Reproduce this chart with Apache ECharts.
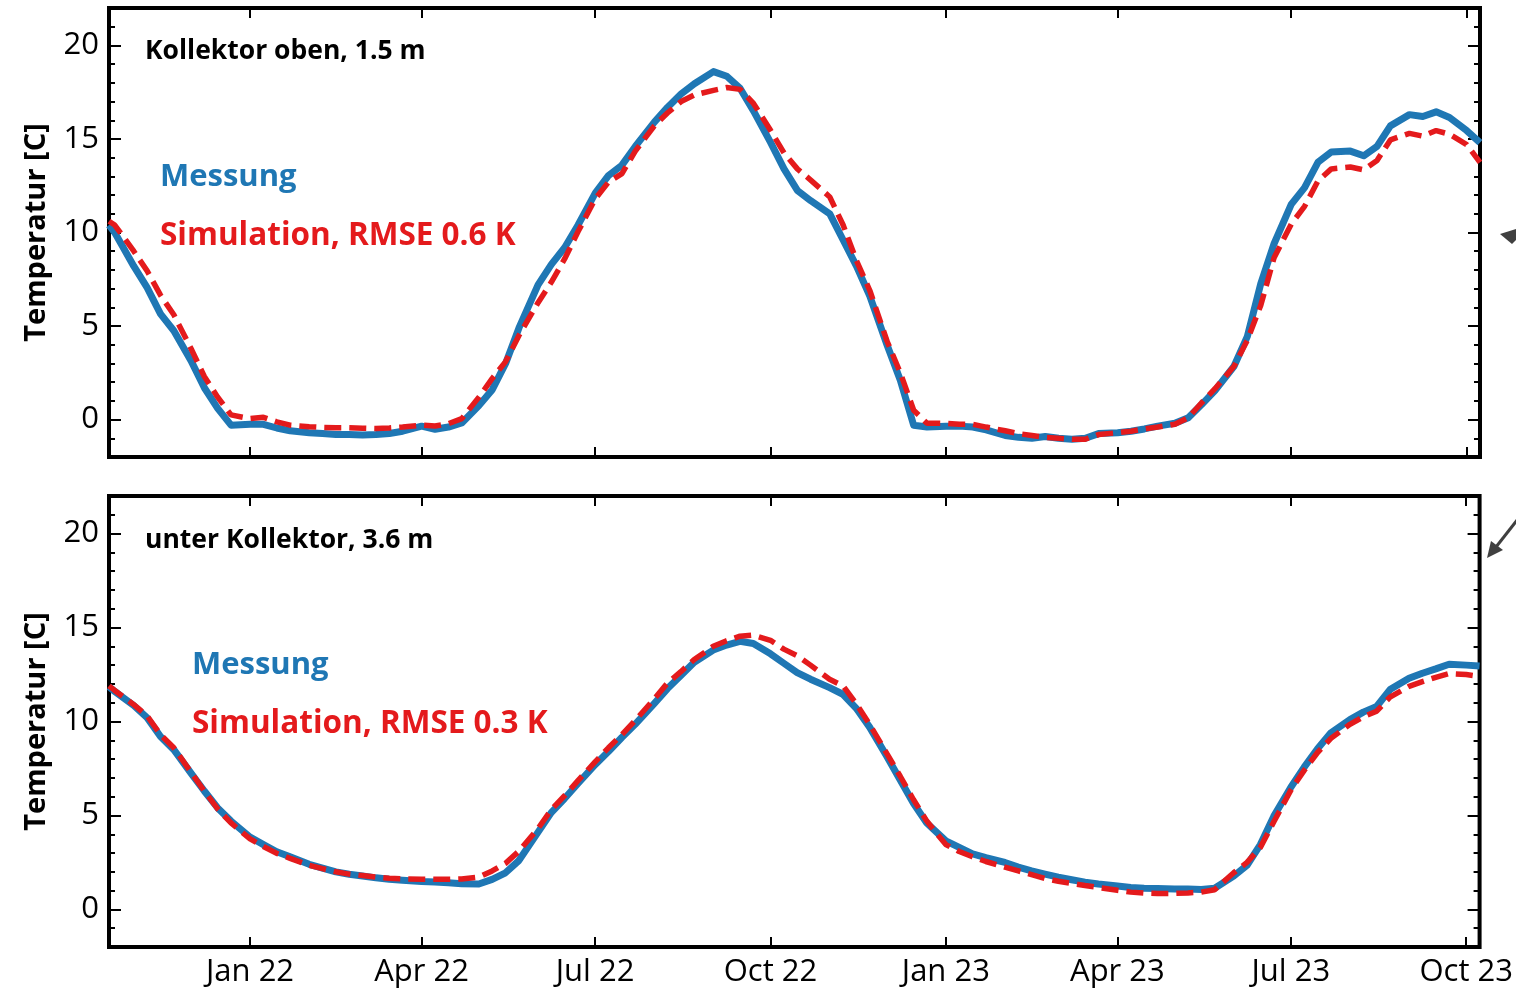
<!DOCTYPE html>
<html>
<head>
<meta charset="utf-8">
<title>Temperatur Kollektor</title>
<script src="https://cdn.jsdelivr.net/npm/echarts@6/dist/echarts.min.js"></script>
<style>
  html, body { margin: 0; padding: 0; background: #fff; }
  #chart { width: 1516px; height: 993px; }
</style>
</head>
<body>
<div id="chart"></div>
<script>
// sampling dates (weekly)
const dates = [
  '2021-10-19', '2021-10-22',
  '2021-11-01', '2021-11-08', '2021-11-15', '2021-11-22',
  '2021-12-01', '2021-12-08', '2021-12-15', '2021-12-22',
  '2022-01-01', '2022-01-08', '2022-01-15', '2022-01-22',
  '2022-02-01', '2022-02-08', '2022-02-15', '2022-02-22',
  '2022-03-01', '2022-03-08', '2022-03-15', '2022-03-22',
  '2022-04-01', '2022-04-08', '2022-04-15', '2022-04-22',
  '2022-05-01', '2022-05-08', '2022-05-15', '2022-05-22',
  '2022-06-01', '2022-06-08', '2022-06-15', '2022-06-22',
  '2022-07-01', '2022-07-08', '2022-07-15', '2022-07-22',
  '2022-08-01', '2022-08-08', '2022-08-15', '2022-08-22',
  '2022-09-01', '2022-09-08', '2022-09-15', '2022-09-22',
  '2022-10-01', '2022-10-08', '2022-10-15', '2022-10-22',
  '2022-11-01', '2022-11-08', '2022-11-15', '2022-11-22',
  '2022-12-01', '2022-12-08', '2022-12-15', '2022-12-22',
  '2023-01-01', '2023-01-08', '2023-01-15', '2023-01-22',
  '2023-02-01', '2023-02-08', '2023-02-15', '2023-02-22',
  '2023-03-01', '2023-03-08', '2023-03-15', '2023-03-22',
  '2023-04-01', '2023-04-08', '2023-04-15', '2023-04-22',
  '2023-05-01', '2023-05-08', '2023-05-15', '2023-05-22',
  '2023-06-01', '2023-06-08', '2023-06-15', '2023-06-22',
  '2023-07-01', '2023-07-08', '2023-07-15', '2023-07-22',
  '2023-08-01', '2023-08-08', '2023-08-15', '2023-08-22',
  '2023-09-01', '2023-09-08', '2023-09-15', '2023-09-22',
  '2023-10-01', '2023-10-08'
];

// Kollektor oben, 1.5 m
const obenMessung = [
  10.4, 10.0,
  8.2, 7.05, 5.65, 4.75,
  3.15, 1.7, 0.6, -0.3,
  -0.25, -0.25, -0.45, -0.6,
  -0.7, -0.75, -0.8, -0.8,
  -0.82, -0.8, -0.74, -0.62,
  -0.35, -0.52, -0.4, -0.18,
  0.75, 1.6, 3.0, 4.9,
  7.2, 8.3, 9.2, 10.4,
  12.1, 13.05, 13.6, 14.6,
  15.9, 16.7, 17.4, 17.95,
  18.6, 18.35, 17.7, 16.5,
  14.8, 13.4, 12.25, 11.7,
  11.0, 9.6, 8.2, 6.6,
  4.0, 2.1, -0.3, -0.4,
  -0.35, -0.35, -0.4, -0.55,
  -0.85, -0.95, -1.0, -0.9,
  -1.0, -1.05, -1.0, -0.75,
  -0.7, -0.62, -0.5, -0.35,
  -0.2, 0.1, 0.8, 1.55,
  2.85, 4.45, 7.25, 9.4,
  11.5, 12.4, 13.75, 14.3,
  14.35, 14.1, 14.6, 15.7,
  16.3, 16.2, 16.45, 16.15,
  15.45, 14.8
];
const obenSimulation = [
  10.6, 10.4,
  9.0, 7.95, 6.65, 5.6,
  3.8, 2.3, 1.2, 0.25,
  0.05, 0.12, -0.12, -0.3,
  -0.38, -0.42, -0.44, -0.44,
  -0.46, -0.48, -0.45, -0.4,
  -0.3, -0.34, -0.22, 0.05,
  1.2, 2.2, 3.1, 4.5,
  6.25, 7.35, 8.6, 10.05,
  11.8, 12.7, 13.15, 14.35,
  15.7, 16.4, 17.0, 17.35,
  17.6, 17.75, 17.65, 16.9,
  15.45, 14.25, 13.4, 12.8,
  11.9, 10.4, 8.5, 6.9,
  4.2, 2.5, 0.5, -0.2,
  -0.2, -0.25, -0.25, -0.4,
  -0.6, -0.75, -0.85, -0.95,
  -1.0, -1.05, -1.05, -0.8,
  -0.7, -0.62, -0.5, -0.4,
  -0.25, 0.1, 0.9, 1.65,
  2.85, 4.25, 6.1, 8.65,
  10.45, 11.4, 12.75, 13.4,
  13.5, 13.35, 13.85, 14.95,
  15.3, 15.15, 15.45, 15.25,
  14.7, 13.75
];

// unter Kollektor, 3.6 m
const unterMessung = [
  11.85, 11.6,
  10.85, 10.2, 9.2, 8.5,
  7.25, 6.3, 5.4, 4.7,
  3.85, 3.45, 3.07, 2.8,
  2.4, 2.2, 2.0, 1.87,
  1.78, 1.68, 1.6, 1.55,
  1.48, 1.46, 1.42, 1.37,
  1.35, 1.6, 1.95, 2.6,
  4.1, 5.15, 5.9, 6.7,
  7.7, 8.4, 9.15, 9.85,
  10.95, 11.75, 12.45, 13.15,
  13.8, 14.07, 14.27, 14.15,
  13.6, 13.1, 12.6, 12.25,
  11.8, 11.45, 10.7, 9.7,
  8.15, 6.9, 5.65, 4.6,
  3.65, 3.3, 2.95, 2.75,
  2.5, 2.25, 2.05, 1.88,
  1.72, 1.58, 1.45, 1.35,
  1.25, 1.17, 1.13, 1.11,
  1.09, 1.08, 1.06, 1.13,
  1.77, 2.35, 3.45, 4.95,
  6.5, 7.57, 8.55, 9.4,
  10.1, 10.5, 10.8, 11.7,
  12.3, 12.57, 12.8, 13.05,
  13.0, 12.95
];
const unterSimulation = [
  11.9, 11.65,
  10.9, 10.3, 9.3, 8.6,
  7.3, 6.3, 5.35, 4.6,
  3.75, 3.35, 2.98, 2.72,
  2.35, 2.17, 2.0, 1.88,
  1.8, 1.72, 1.66, 1.63,
  1.61, 1.6, 1.6, 1.62,
  1.72, 2.05, 2.45, 3.1,
  4.3, 5.3, 6.05, 6.85,
  7.85, 8.6, 9.3, 10.05,
  11.2, 12.05, 12.65, 13.3,
  14.0, 14.3, 14.54, 14.6,
  14.32, 13.85, 13.5, 13.0,
  12.25, 11.9, 10.95, 9.85,
  8.3, 7.1, 5.85, 4.7,
  3.45, 3.08, 2.8, 2.55,
  2.25, 2.05, 1.85, 1.65,
  1.5, 1.38, 1.27, 1.17,
  1.02, 0.92, 0.87, 0.85,
  0.85, 0.88, 0.92, 1.05,
  1.95, 2.5, 3.3, 4.65,
  6.35, 7.4, 8.35, 9.1,
  9.85, 10.25, 10.55, 11.3,
  11.87, 12.12, 12.35, 12.55,
  12.5, 12.4
];

// axis ticks
const quarterTicks = ['2022-01-01', '2022-04-01', '2022-07-01', '2022-10-01',
  '2023-01-01', '2023-04-01', '2023-07-01', '2023-10-01'];
const quarterLabels = ['Jan 22', 'Apr 22', 'Jul 22', 'Oct 22',
  'Jan 23', 'Apr 23', 'Jul 23', 'Oct 23'];
const yMajor = [0, 5, 10, 15, 20];
const yMinor = [-2, -1, 1, 2, 3, 4, 6, 7, 8, 9, 11, 12, 13, 14, 16, 17, 18, 19, 21, 22];

const ts = (s) => {
  const p = s.split('-').map(Number);
  return new Date(p[0], p[1] - 1, p[2]).getTime();
};
const xMin = ts('2021-10-19');
const xMax = ts('2023-10-08');
const tickTs = quarterTicks.map(ts);

const BLUE = '#1f77b4';
const RED = '#e41a1c';
const FONT = '"Open Sans", "Noto Sans", sans-serif';

const grids = [
  { left: 109, right: 36, top: 8, height: 449 },
  { left: 109, right: 36, top: 496, height: 451 },
];

const xAxes = [];
const yAxes = [];
grids.forEach((g, i) => {
  ['bottom', 'top'].forEach((pos) => {
    // dates as timestamps on a value axis, ticks only at quarter starts
    xAxes.push({
      type: 'value', gridIndex: i, position: pos, min: xMin, max: xMax,
      axisLine: { show: false, onZero: false },
      splitLine: { show: false },
      axisTick: { show: true, inside: true, length: 10, customValues: tickTs,
        lineStyle: { color: '#000', width: 2 } },
      axisLabel: {
        show: i === 1 && pos === 'bottom', customValues: tickTs, margin: 10,
        color: '#000', fontSize: 31, fontFamily: FONT,
        formatter: (v) => quarterLabels[tickTs.indexOf(v)] || '',
      },
    });
  });
  ['left', 'right'].forEach((pos) => {
    // major ticks (+ labels on the left)
    yAxes.push({
      type: 'value', gridIndex: i, position: pos, min: -2, max: 22,
      name: pos === 'left' ? 'Temperatur [C]' : '',
      nameLocation: 'middle', nameRotate: 90, nameGap: 58,
      nameTextStyle: { color: '#000', fontSize: 29, fontWeight: 'bold', fontFamily: FONT },
      axisLine: { show: false, onZero: false },
      splitLine: { show: false },
      axisTick: { show: true, inside: true, length: 12, customValues: yMajor,
        lineStyle: { color: '#000', width: 2 } },
      axisLabel: { show: pos === 'left', customValues: yMajor, margin: 10,
        color: '#000', fontSize: 31, fontFamily: FONT },
    });
    // minor ticks
    yAxes.push({
      type: 'value', gridIndex: i, position: pos, min: -2, max: 22,
      axisLine: { show: false, onZero: false },
      splitLine: { show: false },
      axisTick: { show: true, inside: true, length: 6, customValues: yMinor,
        lineStyle: { color: '#000', width: 2 } },
      axisLabel: { show: false },
    });
  });
});

const pairs = (vals) => dates.map((d, k) => [ts(d), vals[k]]);
const measLine = (vals, i) => ({
  type: 'line', xAxisIndex: i * 2, yAxisIndex: i * 4, data: pairs(vals),
  showSymbol: false, z: 2,
  lineStyle: { color: BLUE, width: 7, join: 'round' },
});
const simLine = (vals, i) => ({
  type: 'line', xAxisIndex: i * 2, yAxisIndex: i * 4, data: pairs(vals),
  showSymbol: false, z: 3,
  lineStyle: { color: RED, width: 5.5, type: [17, 8] },
});

const txt = (text, x, y, size, color) => ({
  type: 'text', left: x, top: y, z: 10,
  style: { text, fill: color, font: 'bold ' + size + 'px ' + FONT },
});

const chart = echarts.init(document.getElementById('chart'));
chart.setOption({
  backgroundColor: '#fff',
  animation: false,
  grid: grids.map((g) => Object.assign({ show: true, borderColor: '#000', borderWidth: 4 }, g)),
  xAxis: xAxes,
  yAxis: yAxes,
  series: [
    measLine(obenMessung, 0),
    simLine(obenSimulation, 0),
    measLine(unterMessung, 1),
    simLine(unterSimulation, 1),
  ],
  graphic: [
    txt('Kollektor oben, 1.5 m', 145, 38, 26.5, '#000'),
    txt('Messung', 160, 162, 31, BLUE),
    txt('Simulation, RMSE 0.6 K', 160, 220, 31.5, RED),
    txt('unter Kollektor, 3.6 m', 145, 527, 26.5, '#000'),
    txt('Messung', 192, 650, 31, BLUE),
    txt('Simulation, RMSE 0.3 K', 192, 708, 31.5, RED),
    // cut-off arrows at the right edge
    { type: 'polygon', shape: { points: [[1500, 234], [1516, 229], [1516, 240], [1512, 244]] },
      style: { fill: '#404040' } },
    { type: 'line', shape: { x1: 1518, y1: 519, x2: 1496, y2: 547 },
      style: { stroke: '#404040', lineWidth: 3 } },
    { type: 'polygon', shape: { points: [[1487, 558], [1491, 541], [1503, 550]] },
      style: { fill: '#404040' } },
  ],
});
</script>
</body>
</html>
